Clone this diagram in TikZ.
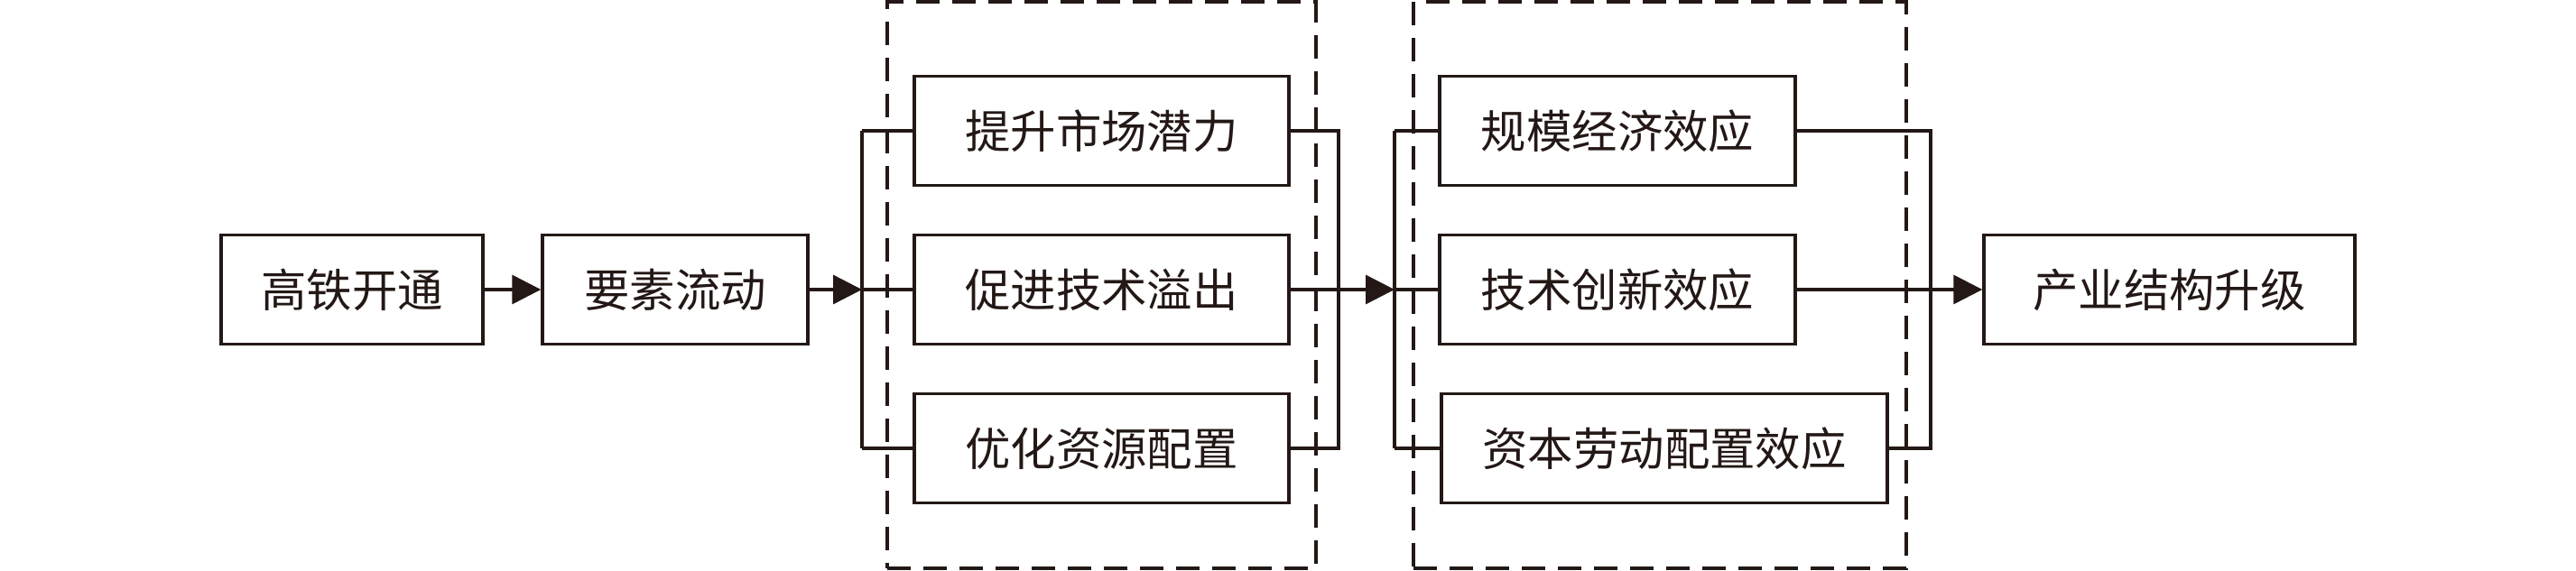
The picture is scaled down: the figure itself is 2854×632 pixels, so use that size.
\documentclass[tikz,border=0pt]{standalone}
\usepackage{fontspec}
\setmainfont{Noto Sans CJK SC}
\usetikzlibrary{arrows.meta}
\definecolor{ink}{HTML}{231815}
\begin{document}
\begin{tikzpicture}[x=0.25pt,y=-0.25pt,
  box/.style={draw=ink,line width=0.85pt,minimum height=30.25pt,inner sep=0pt,
    font=\fontsize{12.6pt}{15pt}\selectfont,text=ink},
  conn/.style={draw=ink,line width=0.85pt},
  arr/.style={conn,-{Triangle[length=8pt,width=8pt]}},
  grp/.style={draw=ink,line width=0.85pt,dash pattern=on 6.5pt off 3.5pt,
    minimum height=157pt,inner sep=0pt}]
\useasboundingbox (0,0) rectangle (2854,632);
% group frames
\node[grp,minimum width=118.75pt] (g1) at (1220.5,316) {};
\node[grp,minimum width=136.5pt] (g2) at (1839,316) {};
% main boxes
\node[box,minimum width=72.5pt] (n1) at (390,321) {高铁开通};
\node[box,minimum width=73.5pt] (n2) at (748,321) {要素流动};
\node[box,minimum width=103.75pt] (m1) at (1220.5,145) {提升市场潜力};
\node[box,minimum width=103.75pt] (m2) at (1220.5,321) {促进技术溢出};
\node[box,minimum width=103.75pt] (m3) at (1220.5,497) {优化资源配置};
\node[box,minimum width=98.5pt] (e1) at (1792,145) {规模经济效应};
\node[box,minimum width=98.5pt] (e2) at (1792,321) {技术创新效应};
\node[box,minimum width=123.5pt] (e3) at (1844,497) {资本劳动配置效应};
\node[box,minimum width=102.75pt] (fin) at (2403.5,321) {产业结构升级};
% bus coordinates
\coordinate (b1t) at (955,145);
\coordinate (b1m) at (955,321);
\coordinate (b1b) at (955,497);
\coordinate (b2t) at (1483,145);
\coordinate (b2b) at (1483,497);
\coordinate (b3t) at (1545,145);
\coordinate (b3m) at (1545,321);
\coordinate (b3b) at (1545,497);
\coordinate (b4t) at (2139,145);
\coordinate (b4b) at (2139,497);
% connectors
\draw[arr] (n1.east) -- (n2.west);
\draw[arr] (n2.east) -- (b1m);
\draw[conn] (b1t) -- (b1b);
\draw[conn] (b1t) -- (m1.west);
\draw[conn] (b1m) -- (m2.west);
\draw[conn] (b1b) -- (m3.west);
\draw[conn] (m1.east) -- (b2t) -- (b2b) -- (m3.east);
\draw[arr] (m2.east) -- (b3m);
\draw[conn] (b3t) -- (b3b);
\draw[conn] (b3t) -- (e1.west);
\draw[conn] (b3m) -- (e2.west);
\draw[conn] (b3b) -- (e3.west);
\draw[conn] (e1.east) -- (b4t) -- (b4b) -- (e3.east);
\draw[arr] (e2.east) -- (fin.west);
\end{tikzpicture}
\end{document}
